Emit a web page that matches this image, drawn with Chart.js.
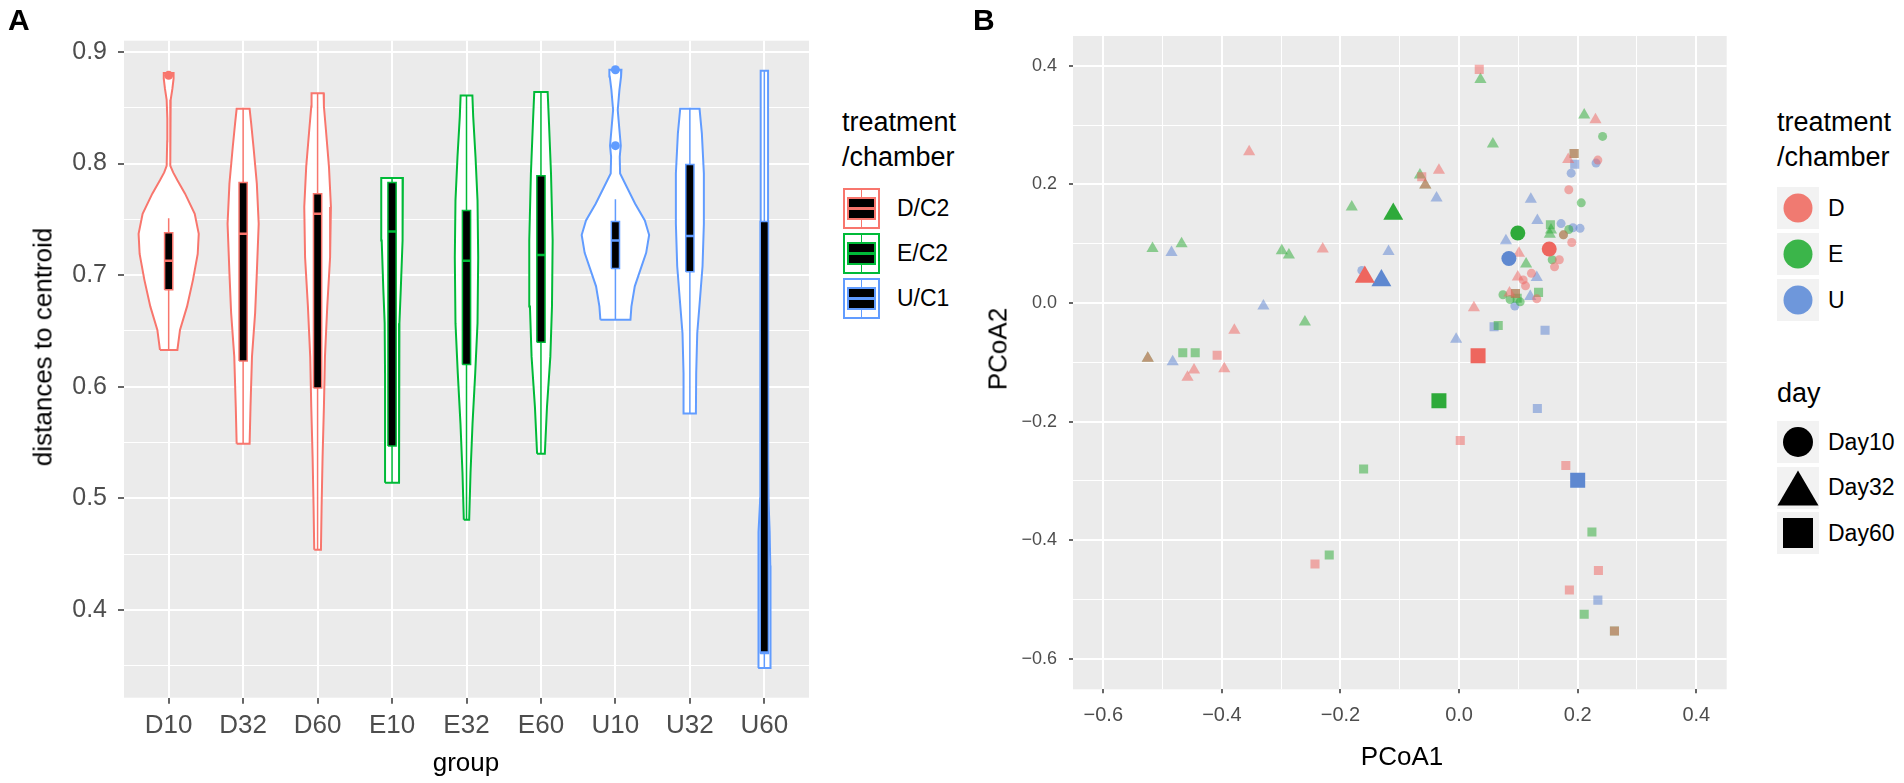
<!DOCTYPE html>
<html>
<head>
<meta charset="utf-8">
<script src="https://cdn.jsdelivr.net/npm/chart.js@4.4.0/dist/chart.umd.min.js"></script>
<style>
  body { margin: 0; background: #fff; width: 1904px; height: 783px; overflow: hidden; position: relative;
         font-family: "Liberation Sans", Arial, sans-serif; }
  canvas { position: absolute; top: 0; }
  #chartA { left: 0; }
  #chartB { left: 960px; }
  .txt { position: absolute; white-space: nowrap; color: #000; line-height: 1; }
  .mid { transform: translate(-50%, -50%); line-height: normal; }
  .rot { transform: translate(-50%, -50%) rotate(-90deg); line-height: normal; }
  .keyA { position: absolute; left: 843px; width: 33px; height: 37px; border: 2px solid; background: #fff; }
  .keyA .whisk { position: absolute; left: 50%; top: 0; bottom: 0; width: 1.5px; margin-left: -0.75px; }
  .keyA .box { position: absolute; left: 2px; right: 2px; top: 7px; bottom: 7px; background: #000; border: 2px solid; }
  .keyA .med { position: absolute; left: 0; right: 0; top: 50%; height: 3px; margin-top: -1.5px; }
  .keyB { position: absolute; left: 1777px; width: 42px; height: 42px; background: #F2F2F2; }
  .keyB svg { position: absolute; left: 0; top: 0; }
</style>
</head>
<body>
<canvas id="chartA" width="820" height="783"></canvas>
<canvas id="chartB" width="780" height="783"></canvas>

<div class="txt" style="left:8px;top:5px;font-size:30px;font-weight:bold;">A</div>
<div class="txt" style="left:973px;top:5px;font-size:30px;font-weight:bold;">B</div>

<div class="txt rot" style="left:43px;top:347px;font-size:26px;">distances to centroid</div>
<div class="txt mid" style="left:466px;top:762px;font-size:26px;">group</div>
<div class="txt rot" style="left:998px;top:349px;font-size:26px;">PCoA2</div>
<div class="txt mid" style="left:1402px;top:756px;font-size:26px;">PCoA1</div>

<div id="legendA"></div>
<div id="legendB"></div>

<script>
// ---- panel A: distances to centroid per group ----
const groups = ['D10', 'D32', 'D60', 'E10', 'E32', 'E60', 'U10', 'U32', 'U60'];
const groupTreatment = ['D', 'D', 'D', 'E', 'E', 'E', 'U', 'U', 'U'];

const whiskerLow  = [0.633, 0.549, 0.454, 0.514, 0.481, 0.540, 0.660, 0.576, 0.348];
const boxQ1       = [0.687, 0.623, 0.599, 0.547, 0.620, 0.640, 0.706, 0.703, 0.361];
const boxMedian   = [0.713, 0.737, 0.755, 0.739, 0.713, 0.718, 0.731, 0.735, 0.362];
const boxQ3       = [0.738, 0.783, 0.773, 0.783, 0.758, 0.789, 0.748, 0.799, 0.748];
const whiskerHigh = [0.751, 0.849, 0.863, 0.787, 0.861, 0.864, 0.768, 0.849, 0.883];
const outliers    = [[0.879], [], [], [], [], [], [0.884, 0.816], [], []];

// violin outlines: [distance, half width in group units], bottom to top
const violinD10 = [[0.633,0.117],[0.651,0.152],[0.672,0.247],[0.696,0.327],[0.719,0.39],[0.737,0.404],[0.755,0.35],
                   [0.773,0.22],[0.785,0.117],[0.792,0.06],[0.798,0.027],[0.82,0.02],[0.84,0.018],[0.857,0.027],
                   [0.867,0.05],[0.876,0.066],[0.881,0.066]];
const violinD32 = [[0.549,0.087],[0.582,0.099],[0.627,0.119],[0.666,0.161],[0.702,0.184],[0.746,0.209],[0.782,0.184],
                   [0.815,0.139],[0.836,0.108],[0.849,0.087]];
const violinD60 = [[0.454,0.045],[0.493,0.054],[0.537,0.067],[0.582,0.085],[0.627,0.099],[0.672,0.13],[0.716,0.168],
                   [0.761,0.179],[0.797,0.153],[0.83,0.112],[0.851,0.085],[0.863,0.081]];
const violinE10 = [[0.514,0.094],[0.612,0.094],[0.657,0.099],[0.687,0.117],[0.731,0.139],[0.767,0.144],[0.787,0.146]];
const violinE32 = [[0.481,0.036],[0.523,0.054],[0.567,0.081],[0.612,0.117],[0.657,0.148],[0.716,0.157],[0.767,0.148],
                   [0.806,0.121],[0.842,0.09],[0.861,0.079]];
const violinE60 = [[0.540,0.052],[0.582,0.081],[0.627,0.126],[0.672,0.148],[0.731,0.157],[0.791,0.135],[0.836,0.108],
                   [0.864,0.09]];
const violinU10 = [[0.660,0.202],[0.672,0.215],[0.690,0.26],[0.705,0.336],[0.720,0.413],[0.736,0.453],[0.749,0.395],
                   [0.764,0.265],[0.779,0.153],[0.791,0.063],[0.806,0.058],[0.816,0.072],[0.830,0.054],[0.848,0.031],
                   [0.866,0.054],[0.878,0.076],[0.884,0.081]];
const violinU32 = [[0.576,0.081],[0.612,0.085],[0.648,0.099],[0.678,0.135],[0.708,0.17],[0.746,0.188],[0.791,0.188],
                   [0.827,0.161],[0.849,0.13]];
const violinU60 = [[0.348,0.083],[0.40,0.083],[0.44,0.08],[0.47,0.072],[0.50,0.055],[0.55,0.047],[0.65,0.048],
                   [0.75,0.05],[0.85,0.05],[0.883,0.05]];
const violinProfiles = [violinD10, violinD32, violinD60, violinE10, violinE32, violinE60, violinU10, violinU32, violinU60];

const yTicksA = [0.35, 0.40, 0.45, 0.50, 0.55, 0.60, 0.65, 0.70, 0.75, 0.80, 0.85, 0.90];

// ---- panel B: PCoA coordinates [PCoA1, PCoA2] ----
const pcoaD10 = [[0.234,0.241],[0.185,0.191],[0.190,0.102],[0.122,0.050],[0.108,0.039],[0.112,0.029],[0.169,0.073],
                 [0.161,0.061],[0.131,0.007],[0.176,0.115]];
const pcoaE10 = [[0.242,0.281],[0.206,0.169],[0.185,0.124],[0.157,0.073],[0.074,0.014],[0.086,0.006],[0.103,0.002],
                 [0.176,0.115]];
const pcoaU10 = [[0.231,0.236],[0.189,0.219],[0.172,0.134],[0.192,0.127],[0.204,0.126],[0.094,-0.005],[-0.164,0.055]];
const pcoaD32 = [[-0.354,0.255],[-0.230,0.091],[-0.034,0.224],[0.184,0.242],[0.230,0.309],[0.101,0.084],[0.099,0.044],
                 [0.085,0.017],[0.025,-0.008],[-0.379,-0.046],[-0.447,-0.113],[-0.458,-0.125],[-0.396,-0.111],
                 [-0.525,-0.093],[-0.057,0.199]];
const pcoaE32 = [[-0.517,0.092],[-0.468,0.100],[-0.299,0.088],[-0.287,0.081],[-0.181,0.162],[-0.066,0.216],[0.036,0.377],
                 [0.057,0.268],[0.211,0.317],[0.155,0.123],[0.153,0.116],[0.113,0.066],[-0.260,-0.032],[-0.525,-0.093],
                 [-0.057,0.199]];
const pcoaU32 = [[-0.485,0.085],[-0.119,0.087],[-0.330,-0.005],[-0.038,0.177],[0.121,0.175],[0.132,0.139],[0.079,0.105],
                 [0.131,0.043],[0.120,0.011],[-0.005,-0.061],[-0.483,-0.099]];
const pcoaD60 = [[0.034,0.394],[-0.063,0.213],[0.194,0.252],[0.095,0.016],[-0.408,-0.088],[-0.243,-0.440],[0.002,-0.232],
                 [0.180,-0.274],[0.235,-0.451],[0.186,-0.484],[0.262,-0.553]];
const pcoaE60 = [[0.154,0.132],[0.098,0.008],[0.134,0.018],[0.066,-0.038],[-0.466,-0.084],[-0.445,-0.084],[-0.161,-0.280],
                 [-0.219,-0.425],[0.224,-0.386],[0.211,-0.525],[0.262,-0.553],[0.095,0.016],[0.194,0.252]];
const pcoaU60 = [[0.195,0.234],[0.059,-0.040],[0.145,-0.046],[0.132,-0.178],[0.234,-0.501]];

// group centroids, one per day (Day10, Day32, Day60)
const centroidD = [[0.152,0.091],[-0.159,0.044],[0.032,-0.089]];
const centroidE = [[0.099,0.118],[-0.111,0.150],[-0.034,-0.165]];
const centroidU = [[0.084,0.075],[-0.131,0.038],[0.200,-0.299]];

const treatments = ['D', 'E', 'U'];
const legendLabelsA = ['D/C2', 'E/C2', 'U/C1'];
const days = ['Day10', 'Day32', 'Day60'];
const ticksB = [-0.6, -0.5, -0.4, -0.3, -0.2, -0.1, 0.0, 0.1, 0.2, 0.3, 0.4];

// ---- styles ----
const lineColor = { D: '#F8766D', E: '#00BA38', U: '#619CFF' };
const fadedColor = { D: 'rgba(240,100,95,0.5)', E: 'rgba(40,170,50,0.5)', U: 'rgba(90,130,210,0.5)' };
const centroidColor = { D: '#EE665E', E: '#2EAA3A', U: '#5E88D0' };
const legendDotColor = { D: '#F07A71', E: '#3BB54A', U: '#6E97DB' };
const dayShape = ['circle', 'triangle', 'rect'];
const smallRadius = [4.5, 7, 6.4];
const bigRadius = [7.5, 11.5, 10.6];
const boxHalf = 0.055;

const panelBg = {
  id: 'panelBg',
  beforeDraw(chart) {
    const { ctx, chartArea: a } = chart;
    ctx.save();
    ctx.fillStyle = '#EBEBEB';
    ctx.fillRect(a.left, a.top, a.right - a.left, a.bottom - a.top);
    ctx.restore();
  }
};

function isMajor(v, step) {
  const k = v / step;
  return Math.abs(k - Math.round(k)) < 1e-6;
}

// ---- chart A ----
const datasetsA = [];
groups.forEach((g, i) => {
  const col = lineColor[groupTreatment[i]];
  const prof = violinProfiles[i];
  const left = prof.map(p => ({ x: i - p[1], y: p[0] }));
  const right = prof.slice().reverse().map(p => ({ x: i + p[1], y: p[0] }));
  datasetsA.push({
    data: left.concat(right, [left[0]]), showLine: true, fill: 'shape',
    backgroundColor: '#ffffff', borderColor: col, borderWidth: 2, pointRadius: 0, tension: 0, order: 4
  });
  datasetsA.push({
    data: [{ x: i, y: whiskerLow[i] }, { x: i, y: whiskerHigh[i] }], showLine: true,
    borderColor: col, borderWidth: 1.5, pointRadius: 0, order: 3
  });
  datasetsA.push({
    data: [{ x: i - boxHalf, y: boxQ1[i] }, { x: i - boxHalf, y: boxQ3[i] }, { x: i + boxHalf, y: boxQ3[i] },
           { x: i + boxHalf, y: boxQ1[i] }, { x: i - boxHalf, y: boxQ1[i] }],
    showLine: true, fill: 'shape', backgroundColor: '#000000', borderColor: col, borderWidth: 1.5,
    borderJoinStyle: 'miter', pointRadius: 0, order: 2
  });
  datasetsA.push({
    data: [{ x: i - boxHalf, y: boxMedian[i] }, { x: i + boxHalf, y: boxMedian[i] }], showLine: true,
    borderColor: col, borderWidth: 2.5, pointRadius: 0, order: 1
  });
  datasetsA.push({
    data: outliers[i].map(v => ({ x: i, y: v })), pointRadius: 4.5, backgroundColor: col,
    borderWidth: 0, order: 0
  });
});

new Chart(document.getElementById('chartA'), {
  type: 'scatter',
  data: { datasets: datasetsA },
  plugins: [panelBg],
  options: {
    responsive: false,
    animation: false,
    layout: { padding: { top: 40.7, right: 11, left: 0, bottom: 0 } },
    plugins: { legend: { display: false }, tooltip: { enabled: false } },
    scales: {
      x: {
        type: 'linear', min: -0.6, max: 8.6,
        afterBuildTicks: s => { s.ticks = groups.map((g, i) => ({ value: i })); },
        afterFit: s => { s.height = 85.3; },
        ticks: { callback: v => groups[v], font: { size: 26, family: 'Liberation Sans' }, color: '#4D4D4D',
                 padding: 7, autoSkip: false, maxRotation: 0 },
        grid: { color: '#ffffff', lineWidth: 2, tickColor: '#333333', tickLength: 6, tickWidth: 1.5 },
        border: { display: false }
      },
      y: {
        type: 'linear', min: 0.3215, max: 0.910,
        afterBuildTicks: s => { s.ticks = yTicksA.map(v => ({ value: v })); },
        afterFit: s => { s.width = 124; },
        ticks: { callback: v => isMajor(v, 0.1) ? v.toFixed(1) : '', font: { size: 25, family: 'Liberation Sans' },
                 color: '#4D4D4D', padding: 11 },
        grid: {
          color: '#ffffff',
          lineWidth: c => isMajor(c.tick.value, 0.1) ? 2 : 1,
          tickColor: c => isMajor(c.tick.value, 0.1) ? '#333333' : 'rgba(0,0,0,0)',
          tickLength: 6, tickWidth: 1.5
        },
        border: { display: false }
      }
    }
  }
});

// ---- chart B ----
const pcoaSets = { D: [pcoaD10, pcoaD32, pcoaD60], E: [pcoaE10, pcoaE32, pcoaE60], U: [pcoaU10, pcoaU32, pcoaU60] };
const centroidSets = { D: centroidD, E: centroidE, U: centroidU };
const datasetsB = [];
treatments.forEach(t => {
  days.forEach((d, k) => {
    datasetsB.push({
      data: pcoaSets[t][k].map(p => ({ x: p[0], y: p[1] })),
      pointStyle: dayShape[k], pointRadius: smallRadius[k], backgroundColor: fadedColor[t], borderWidth: 0, order: 1
    });
  });
});
treatments.forEach(t => {
  days.forEach((d, k) => {
    const p = centroidSets[t][k];
    datasetsB.push({
      data: [{ x: p[0], y: p[1] }],
      pointStyle: dayShape[k], pointRadius: bigRadius[k], backgroundColor: centroidColor[t], borderWidth: 0, order: 0
    });
  });
});

const fmtB = v => isMajor(v, 0.2) ? (v < -1e-9 ? '\u2212' + Math.abs(v).toFixed(1) : Math.abs(v).toFixed(1)) : '';

new Chart(document.getElementById('chartB'), {
  type: 'scatter',
  data: { datasets: datasetsB },
  plugins: [panelBg],
  options: {
    responsive: false,
    animation: false,
    layout: { padding: { top: 36, right: 13.3, left: 0, bottom: 0 } },
    plugins: { legend: { display: false }, tooltip: { enabled: false } },
    scales: {
      x: {
        type: 'linear', min: -0.6511, max: 0.4513,
        afterBuildTicks: s => { s.ticks = ticksB.map(v => ({ value: v })); },
        afterFit: s => { s.height = 93.7; },
        ticks: { callback: fmtB, font: { size: 20, family: 'Liberation Sans' }, color: '#4D4D4D', padding: 10,
                 autoSkip: false, maxRotation: 0 },
        grid: {
          color: '#ffffff',
          lineWidth: c => isMajor(c.tick.value, 0.2) ? 2 : 1,
          tickColor: c => isMajor(c.tick.value, 0.2) ? '#333333' : 'rgba(0,0,0,0)',
          tickLength: 4, tickWidth: 1.5
        },
        border: { display: false }
      },
      y: {
        type: 'linear', min: -0.6514, max: 0.4503,
        afterBuildTicks: s => { s.ticks = ticksB.map(v => ({ value: v })); },
        afterFit: s => { s.width = 113; },
        ticks: { callback: fmtB, font: { size: 18, family: 'Liberation Sans' }, color: '#4D4D4D', padding: 12 },
        grid: {
          color: '#ffffff',
          lineWidth: c => isMajor(c.tick.value, 0.2) ? 2 : 1,
          tickColor: c => isMajor(c.tick.value, 0.2) ? '#333333' : 'rgba(0,0,0,0)',
          tickLength: 4, tickWidth: 1.5
        },
        border: { display: false }
      }
    }
  }
});

// ---- legends ----
function addText(parent, text, left, top, size) {
  const el = document.createElement('div');
  el.className = 'txt';
  el.style.left = left + 'px';
  el.style.top = top + 'px';
  el.style.fontSize = size + 'px';
  el.textContent = text;
  parent.appendChild(el);
}

const legA = document.getElementById('legendA');
addText(legA, 'treatment', 842, 108.8, 27);
addText(legA, '/chamber', 842, 143.8, 27);
const rowsA = [208, 253, 298];
treatments.forEach((t, i) => {
  const col = lineColor[t];
  const key = document.createElement('div');
  key.className = 'keyA';
  key.style.top = (rowsA[i] - 20.5) + 'px';
  key.style.borderColor = col;
  key.innerHTML = '<div class="whisk" style="background:' + col + '"></div>' +
                  '<div class="box" style="border-color:' + col + '"><div class="med" style="background:' + col + '"></div></div>';
  legA.appendChild(key);
  addText(legA, legendLabelsA[i], 897, rowsA[i] - 11.2, 23);
});

const legB = document.getElementById('legendB');
addText(legB, 'treatment', 1777, 108.8, 27);
addText(legB, '/chamber', 1777, 143.8, 27);
const rowsB = [208, 254, 300];
treatments.forEach((t, i) => {
  const key = document.createElement('div');
  key.className = 'keyB';
  key.style.top = (rowsB[i] - 21) + 'px';
  key.innerHTML = '<svg width="42" height="42"><circle cx="21" cy="21" r="14.5" fill="' + legendDotColor[t] + '"/></svg>';
  legB.appendChild(key);
  addText(legB, t, 1828, rowsB[i] - 11.2, 23);
});
addText(legB, 'day', 1777, 403 - 22.9, 27);
const rowsDay = [442, 487.5, 533];
const dayIcons = [
  '<circle cx="21" cy="21" r="15" fill="#000"/>',
  '<polygon points="0.5,38.5 41.5,38.5 21,3.5" fill="#000"/>',
  '<rect x="6" y="6" width="30" height="30" fill="#000"/>'
];
days.forEach((d, k) => {
  const key = document.createElement('div');
  key.className = 'keyB';
  key.style.top = (rowsDay[k] - 21) + 'px';
  key.innerHTML = '<svg width="42" height="42">' + dayIcons[k] + '</svg>';
  legB.appendChild(key);
  addText(legB, d, 1828, rowsDay[k] - 11.2, 23);
});
</script>
</body>
</html>
